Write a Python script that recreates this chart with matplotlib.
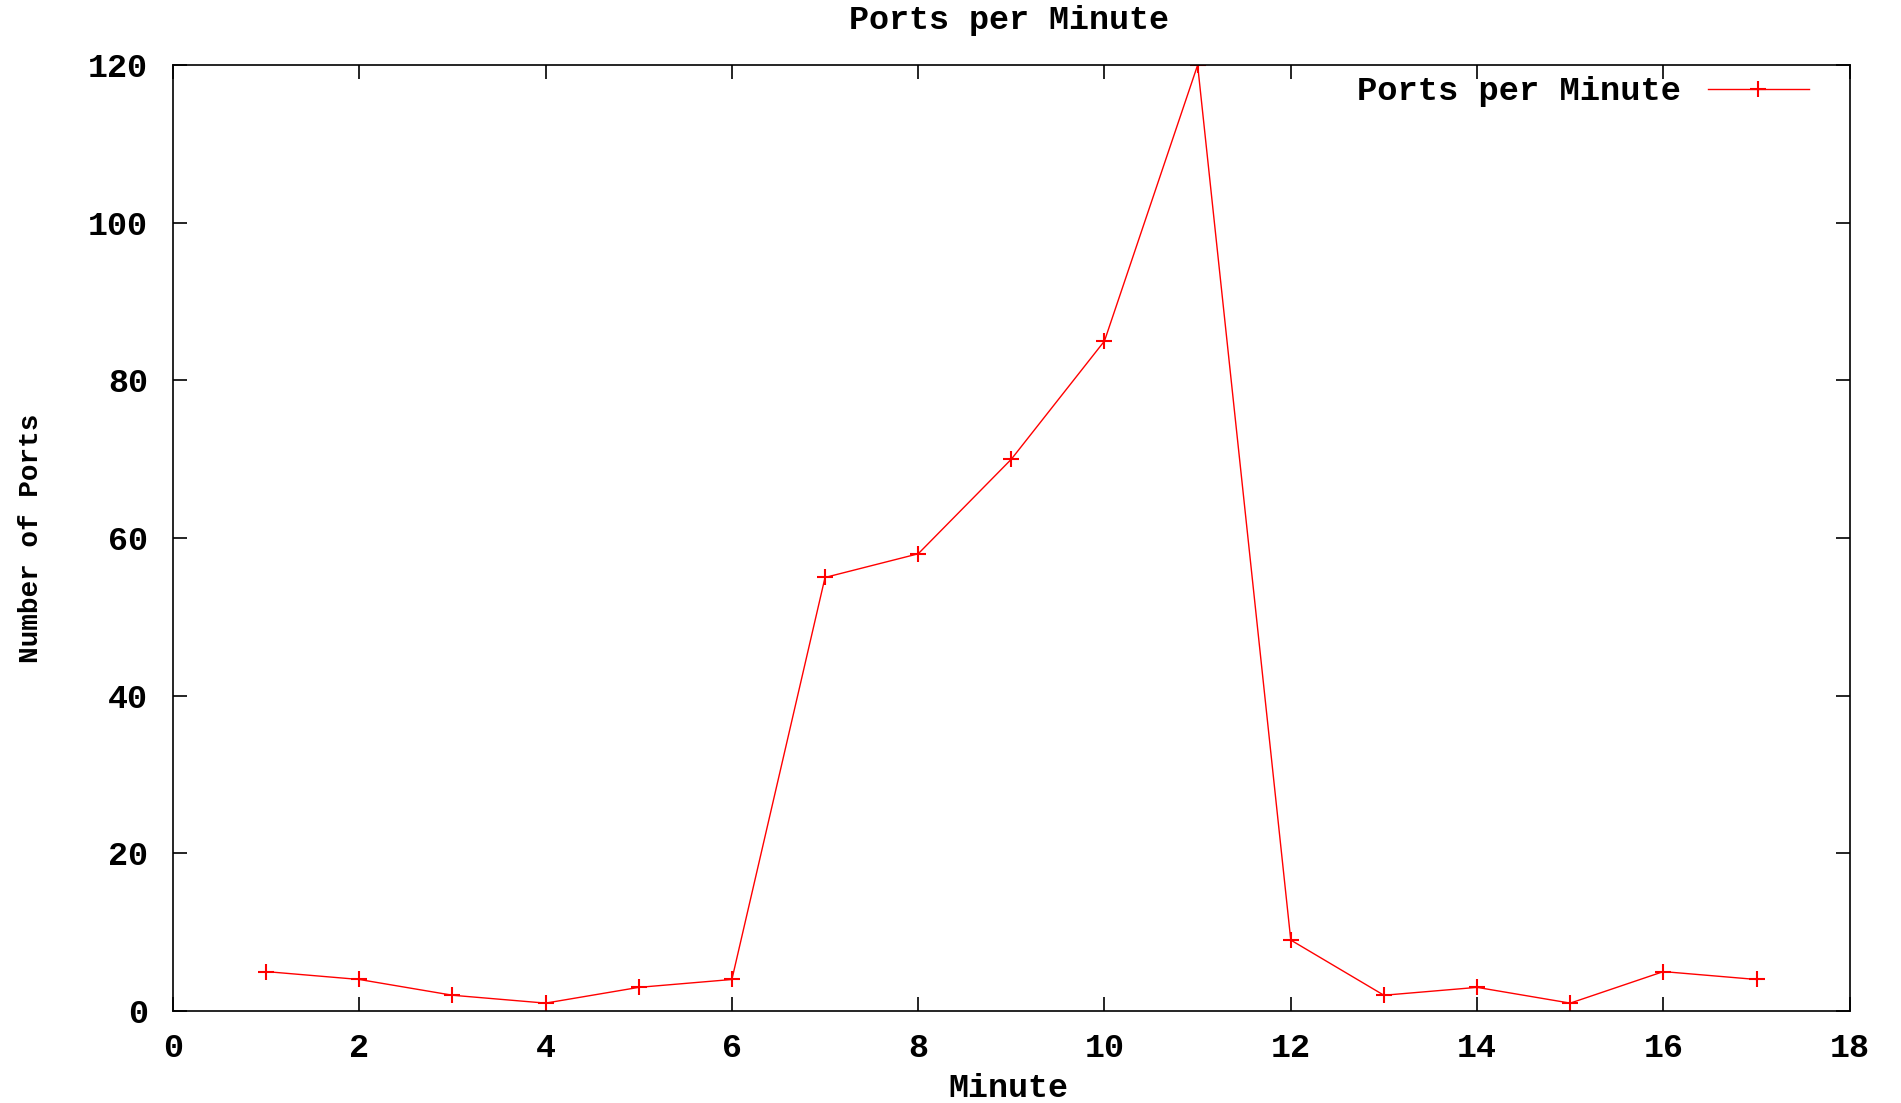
import matplotlib.pyplot as plt

minute = [1, 2, 3, 4, 5, 6, 7, 8, 9, 10, 11, 12, 13, 14, 15, 16, 17]
ports = [5, 4, 2, 1, 3, 4, 55, 58, 70, 85, 120, 9, 2, 3, 1, 5, 4]
xticks = [0, 2, 4, 6, 8, 10, 12, 14, 16, 18]
yticks = [0, 20, 40, 60, 80, 100, 120]

plt.rcParams['font.family'] = 'Liberation Mono'
plt.rcParams['font.weight'] = 'bold'
plt.rcParams['font.size'] = 24

fig = plt.figure(figsize=(19.01, 11.03), dpi=100)
ax = fig.add_axes([0.091, 0.0834, 0.882, 0.8576])

ax.plot(minute, ports, color='red', linewidth=1.0, marker='+',
        markersize=12, markeredgewidth=1.5, label='Ports per Minute')

ax.set_xlim(0, 18)
ax.set_ylim(0, 120)
ax.set_xticks(xticks)
ax.set_yticks(yticks)
ax.tick_params(direction='in', length=10, width=1.2, top=True, right=True,
               labelsize=24)
ax.tick_params(axis='x', pad=16)
ax.tick_params(axis='y', pad=18)
for s in ax.spines.values():
    s.set_linewidth(1.2)

ax.set_xlabel('Minute', fontsize=24, fontweight='bold', va='center')
ax.xaxis.set_label_coords(0.4985, -0.0814)
ax.set_ylabel('Number of Ports', fontsize=20, fontweight='bold', va='center')
ax.yaxis.set_label_coords(-0.0845, 0.5)
fig.text(0.5306, 0.981, 'Ports per Minute', fontsize=24, fontweight='bold',
         ha='center', va='center')

ax.legend(loc='upper right', frameon=False, markerfirst=False,
          handlelength=3.0, handletextpad=0.8, fontsize=24.3,
          borderaxespad=0, borderpad=0, bbox_to_anchor=(0.9756, 0.988))

fig.savefig('out.png', dpi=100)
